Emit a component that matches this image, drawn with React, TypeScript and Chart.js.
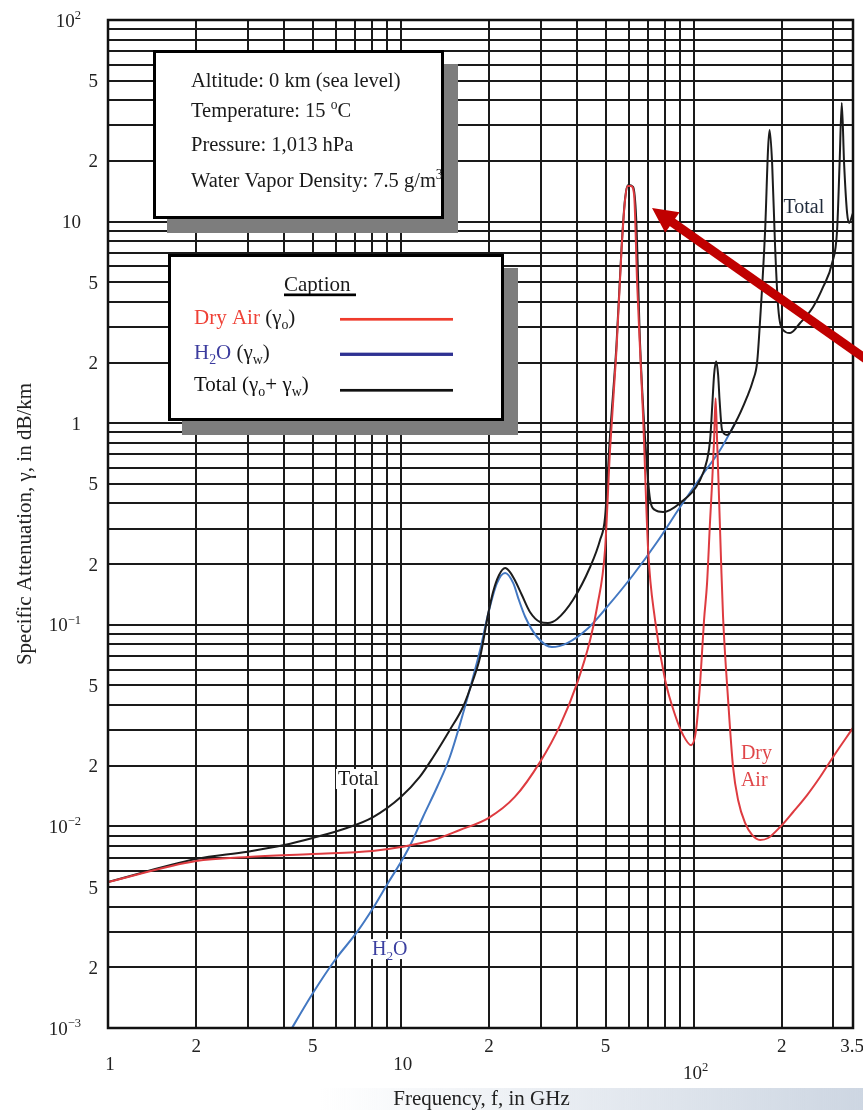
import React, { useEffect, useRef } from 'react';
import { Chart, registerables } from 'chart.js';

Chart.register(...registerables);

// ---------- data ----------
const DRY_FREQ = [1, 2, 3, 5, 8, 10, 12.9, 15.9, 19.9, 24.5, 29.9, 35, 40, 44.3, 46.8, 49.8, 51.8, 54.5, 56.7, 58.3, 59.5, 61.1, 62.6, 64.1, 65.6, 67.2, 69.9, 73.8, 79.9, 86.4, 92, 98, 101.9, 105.2, 108.5, 111.1, 113.8, 115.6, 117.4, 118.8, 120.2, 121.6, 124, 126, 131.1, 136.3, 141.8, 149.8, 158.3, 168.6, 179.6, 197.3, 218.6, 244, 270.2, 299.3, 350];
const DRY_ATT = [0.0053, 0.00674, 0.00705, 0.0073, 0.00755, 0.0079, 0.00856, 0.0096, 0.011, 0.014, 0.0209, 0.0318, 0.0514, 0.084, 0.1226, 0.235, 0.736, 2.31, 7.23, 12.8, 15.0, 15.0, 13.55, 4.96, 2.31, 1.07, 0.235, 0.1057, 0.0532, 0.0357, 0.0284, 0.0253, 0.0301, 0.0514, 0.1057, 0.161, 0.331, 0.505, 0.826, 1.33, 0.826, 0.505, 0.2097, 0.1093, 0.0424, 0.0197, 0.01352, 0.0104, 0.00907, 0.00856, 0.00876, 0.00993, 0.01179, 0.0143, 0.01758, 0.0221, 0.0308];

const H2O_FREQ = [4.02, 5.01, 5.96, 7.09, 8.04, 9.04, 10.1, 10.9, 11.9, 13.3, 14.7, 16.8, 18.65, 19.9, 21.3, 22.7, 24.2, 25.3, 26.6, 29.2, 32.8, 37, 43.3, 50.6, 62.1, 75, 89.9, 105.2, 123.1, 138.5];
const H2O_ATT = [0.000872, 0.001492, 0.002175, 0.002995, 0.003937, 0.005239, 0.00681, 0.00837, 0.01113, 0.01568, 0.0221, 0.0424, 0.075, 0.1145, 0.161, 0.1806, 0.161, 0.1327, 0.1093, 0.087, 0.0776, 0.0812, 0.0953, 0.1226, 0.1766, 0.2574, 0.384, 0.535, 0.736, 1.0];

const TOTAL_FREQ = [1, 2, 3, 4, 5, 6.54, 8.04, 10, 11.6, 12.9, 14.7, 16.3, 17.65, 18.65, 19.9, 20.65, 21.65, 22.7, 23.6, 24.5, 25.9, 27.6, 29.9, 31.8, 34.2, 38.7, 44.3, 47.9, 49.8, 51.8, 54.5, 56.7, 58.3, 59.7, 62.1, 63.6, 65.6, 68.2, 71, 73.8, 78.6, 89.9, 105.2, 111.1, 113.8, 116, 117.4, 119.3, 121.2, 122.6, 125, 130, 138.5, 152.2, 159.6, 164.7, 168.6, 175.4, 179.6, 181.7, 185.3, 189.7, 194.3, 202, 213.4, 230.9, 255.7, 276.7, 297, 308.9, 315, 320.4, 326.3, 334.1, 339.4, 350];
const TOTAL_ATT = [0.0053, 0.00689, 0.00749, 0.00808, 0.00876, 0.00982, 0.01113, 0.014, 0.0176, 0.0221, 0.0301, 0.0391, 0.0532, 0.0692, 0.1145, 0.1455, 0.1766, 0.1913, 0.1827, 0.1667, 0.1405, 0.1158, 0.1033, 0.1021, 0.1069, 0.1327, 0.1935, 0.2634, 0.34, 0.87, 2.45, 7.37, 12.95, 15.2, 14.85, 10.5, 2.48, 0.85, 0.416, 0.371, 0.3626, 0.402, 0.523, 0.657, 0.826, 1.3, 1.734, 2.03, 1.734, 1.3, 0.925, 0.874, 1.0, 1.35, 1.638, 2.01, 3.25, 9.09, 23.4, 28.5, 19.5, 7.48, 3.77, 2.9, 2.8, 3.14, 3.77, 4.74, 6.23, 9.09, 19.5, 38.8, 19.5, 11.03, 9.84, 11.03];

// grid / ticks
const X_GRID = [1, 2, 3, 4, 5, 6, 7, 8, 9, 10, 20, 30, 40, 50, 60, 70, 80, 90, 100, 200, 300, 350];
const Y_GRID = [0.001, 0.002, 0.003, 0.004, 0.005, 0.006, 0.007, 0.008, 0.009, 0.01, 0.02, 0.03, 0.04, 0.05, 0.06, 0.07, 0.08, 0.09, 0.1, 0.2, 0.3, 0.4, 0.5, 0.6, 0.7, 0.8, 0.9, 1, 2, 3, 4, 5, 6, 7, 8, 9, 10, 20, 30, 40, 50, 60, 70, 80, 90, 100];
const X_MINOR_VALUES = [2, 5, 20, 50, 200, 350];
const X_MINOR_TEXT = ['2', '5', '2', '5', '2', '3.5'];
const X_MAJOR_VALUES = [1, 10, 100];
const X_MAJOR_TEXT = ['1', '10', '10^{2}'];
const Y_MINOR_VALUES = [50, 20, 5, 2, 0.5, 0.2, 0.05, 0.02, 0.005, 0.002];
const Y_MINOR_TEXT = ['5', '2', '5', '2', '5', '2', '5', '2', '5', '2'];
const Y_MAJOR_VALUES = [100, 10, 1, 0.1, 0.01, 0.001];
const Y_MAJOR_TEXT = ['10^{2}', '10', '1', '10^{\u22121}', '10^{\u22122}', '10^{\u22123}'];

const INFO_LINES = ['Altitude: 0 km (sea level)', 'Temperature: 15 ^{o}C', 'Pressure: 1,013 hPa', 'Water Vapor Density: 7.5 g/m^{3}'];

// in-plot labels: [text, freq, attenuation(baseline), colour, white background]
const PLOT_LABELS: [string, number, number, string, boolean][] = [
  ['Total', 202.5, 11.0, '#1f2a3a', false],
  ['Total', 6.1, 0.01605, '#1a1a1a', true],
  ['H_{2}O', 7.97, 0.0023, '#3b3fa0', true],
  ['Dry', 145, 0.0216, '#e0474a', true],
  ['Air', 145, 0.01586, '#e0474a', true],
];

const FONT = "'Liberation Serif', 'Times New Roman', Times, serif";
const RED = '#de3b40';
const BLUE = '#4378c2';
const BLACK = '#1c1c1c';
const GRID = '#1a1a1a';

type Part = { t: string; s: number };
function parseRich(str: string): Part[] {
  const parts: Part[] = [];
  let buf = '';
  let i = 0;
  while (i < str.length) {
    const c = str[i];
    if ((c === '^' || c === '_') && str[i + 1] === '{') {
      if (buf) { parts.push({ t: buf, s: 0 }); buf = ''; }
      const end = str.indexOf('}', i);
      parts.push({ t: str.slice(i + 2, end), s: c === '^' ? 1 : -1 });
      i = end + 1;
    } else { buf += c; i++; }
  }
  if (buf) parts.push({ t: buf, s: 0 });
  return parts;
}

function measureRich(ctx: CanvasRenderingContext2D, str: string, size: number) {
  return parseRich(str).reduce((w, p) => {
    ctx.font = `${p.s ? size * 0.66 : size}px ${FONT}`;
    return w + ctx.measureText(p.t).width;
  }, 0);
}

function drawRich(ctx: CanvasRenderingContext2D, str: string, x: number, y: number, size: number, color: string, align: 'left' | 'center' | 'right' = 'left') {
  const parts = parseRich(str);
  const total = measureRich(ctx, str, size);
  let cx = align === 'left' ? x : align === 'center' ? x - total / 2 : x - total;
  ctx.save();
  ctx.textAlign = 'left';
  ctx.textBaseline = 'alphabetic';
  ctx.fillStyle = color;
  for (const p of parts) {
    ctx.font = `${p.s ? size * 0.66 : size}px ${FONT}`;
    const dy = p.s === 1 ? -size * 0.4 : p.s === -1 ? size * 0.24 : 0;
    ctx.fillText(p.t, cx, y + dy);
    cx += ctx.measureText(p.t).width;
  }
  ctx.restore();
  return total;
}

function boxWithShadow(ctx: CanvasRenderingContext2D, x: number, y: number, w: number, h: number, off: number) {
  ctx.save();
  ctx.fillStyle = '#7d7d7d';
  ctx.fillRect(x + off, y + off, w, h);
  ctx.fillStyle = '#ffffff';
  ctx.fillRect(x, y, w, h);
  ctx.strokeStyle = '#000';
  ctx.lineWidth = 3;
  ctx.strokeRect(x + 1.5, y + 1.5, w - 3, h - 3);
  ctx.restore();
}

const overlay = {
  id: 'overlay',
  afterDraw(chart: any) {
    const ctx: CanvasRenderingContext2D = chart.ctx;
    const xs = chart.scales.x;
    const ys = chart.scales.y;
    const a = chart.chartArea;

    // frame
    ctx.save();
    ctx.strokeStyle = '#111';
    ctx.lineWidth = 2.5;
    ctx.strokeRect(a.left, a.top, a.right - a.left, a.bottom - a.top);
    ctx.restore();

    // in-plot labels
    for (const [txt, f, g, col, bg] of PLOT_LABELS) {
      const px = xs.getPixelForValue(f);
      const py = ys.getPixelForValue(g);
      const w = measureRich(ctx, txt, 20);
      if (bg) {
        ctx.fillStyle = '#fff';
        ctx.fillRect(px - 2, py - 16, w + 4, 20);
      }
      drawRich(ctx, txt, px, py, 20, col, 'left');
    }

    // info box
    boxWithShadow(ctx, 153, 50, 291, 169, 14);
    const infoBase = [87, 117, 151, 187];
    INFO_LINES.forEach((t, i) => drawRich(ctx, t, 191, infoBase[i], 20.5, '#1a1a1a'));

    // caption box
    boxWithShadow(ctx, 168, 254, 336, 167, 14);
    drawRich(ctx, 'Caption', 284, 291, 21, '#1a1a1a');
    ctx.fillStyle = '#000';
    ctx.fillRect(284, 293.5, 72, 2.7);
    let w = drawRich(ctx, 'Dry Air', 194, 324, 21, '#ef4136');
    drawRich(ctx, ' (\u03b3_{o})', 194 + w, 324, 21, '#1a1a1a');
    w = drawRich(ctx, 'H_{2}O', 194, 359, 21, '#3c3c9e');
    drawRich(ctx, ' (\u03b3_{w})', 194 + w, 359, 21, '#1a1a1a');
    drawRich(ctx, 'Total (\u03b3_{o}+ \u03b3_{w})', 194, 391, 21, '#111');
    const leg: [string, number, number][] = [['#ef3b2c', 319.3, 2.7], ['#2e3192', 354.3, 3.3], ['#111', 390.3, 2.7]];
    for (const [c, y, lw] of leg) {
      ctx.fillStyle = c;
      ctx.fillRect(340, y - lw / 2, 113, lw);
    }

    // arrow
    ctx.save();
    const tipX = 652, tipY = 208;
    const dx = 0.817, dy = 0.577;
    ctx.strokeStyle = '#c00000';
    ctx.fillStyle = '#c00000';
    ctx.lineWidth = 9;
    ctx.beginPath();
    ctx.moveTo(tipX + 20 * dx, tipY + 20 * dy);
    ctx.lineTo(tipX + 400 * dx, tipY + 400 * dy);
    ctx.stroke();
    const bx = tipX + 25 * dx, by = tipY + 25 * dy;
    ctx.beginPath();
    ctx.moveTo(tipX, tipY);
    ctx.lineTo(bx - 12.5 * dy, by + 12.5 * dx);
    ctx.lineTo(bx + 12.5 * dy, by - 12.5 * dx);
    ctx.closePath();
    ctx.fill();
    ctx.restore();

    // tick labels
    Y_MINOR_VALUES.forEach((v, i) => drawRich(ctx, Y_MINOR_TEXT[i], 98, ys.getPixelForValue(v) + 6.5, 19, '#222', 'right'));
    Y_MAJOR_VALUES.forEach((v, i) => drawRich(ctx, Y_MAJOR_TEXT[i], 81, ys.getPixelForValue(v) + 6.5, 19, '#222', 'right'));
    X_MINOR_VALUES.forEach((v, i) => drawRich(ctx, X_MINOR_TEXT[i], xs.getPixelForValue(v) + (i === X_MINOR_VALUES.length - 1 ? -1 : 0), 1052, 19, '#222', 'center'));
    X_MAJOR_VALUES.forEach((v, i) => drawRich(ctx, X_MAJOR_TEXT[i], xs.getPixelForValue(v) + 2, i === 2 ? 1079 : 1070, 19, '#222', 'center'));

    // bottom gradient strip
    const grad = ctx.createLinearGradient(320, 0, 863, 0);
    grad.addColorStop(0, 'rgba(205,214,226,0)');
    grad.addColorStop(1, 'rgba(205,214,226,1)');
    ctx.fillStyle = grad;
    ctx.fillRect(320, 1088, 543, 22);

    // axis titles
    drawRich(ctx, 'Frequency, f, in GHz', (a.left + a.right) / 2 + 1, 1105, 21, '#222', 'center');
    ctx.save();
    ctx.translate(31, (a.top + a.bottom) / 2);
    ctx.rotate(-Math.PI / 2);
    drawRich(ctx, 'Specific Attenuation, \u03b3, in dB/km', 0, 0, 21, '#222', 'center');
    ctx.restore();
  },
};

function pts(fx: number[], gy: number[]) {
  return fx.map((f, i) => ({ x: f, y: gy[i] }));
}

export default function App() {
  const ref = useRef<HTMLCanvasElement | null>(null);
  useEffect(() => {
    if (!ref.current) return;
    const gridOpts = { color: GRID, lineWidth: 2, drawTicks: false };
    const chart = new Chart(ref.current, {
      type: 'line',
      data: {
        datasets: [
          { label: 'Dry Air', data: pts(DRY_FREQ, DRY_ATT), borderColor: RED, borderWidth: 2, pointRadius: 0, cubicInterpolationMode: 'monotone', order: 0 },
          { label: 'Total', data: pts(TOTAL_FREQ, TOTAL_ATT), borderColor: BLACK, borderWidth: 2, pointRadius: 0, cubicInterpolationMode: 'monotone', order: 1 },
          { label: 'H2O', data: pts(H2O_FREQ, H2O_ATT), borderColor: BLUE, borderWidth: 2, pointRadius: 0, cubicInterpolationMode: 'monotone', order: 2 },
        ],
      } as any,
      options: {
        animation: false,
        responsive: false,
        devicePixelRatio: 1,
        layout: { padding: { left: 108, top: 20, right: 10, bottom: 82 } },
        plugins: { legend: { display: false }, tooltip: { enabled: false } },
        scales: {
          x: {
            type: 'logarithmic', min: 1, max: 350,
            ticks: { display: false },
            grid: gridOpts,
            border: { display: true, color: '#111', width: 2 },
            afterBuildTicks: (s: any) => { s.ticks = X_GRID.map((v) => ({ value: v })); },
          },
          y: {
            type: 'logarithmic', min: 0.001, max: 100,
            ticks: { display: false },
            grid: gridOpts,
            border: { display: true, color: '#111', width: 2 },
            afterBuildTicks: (s: any) => { s.ticks = Y_GRID.map((v) => ({ value: v })); },
          },
        },
      } as any,
      plugins: [overlay],
    });
    return () => chart.destroy();
  }, []);
  return (
    <div style={{ position: 'absolute', left: 0, top: 0, width: 863, height: 1110, background: '#fff' }}>
      <canvas ref={ref} width={863} height={1110} style={{ display: 'block', width: 863, height: 1110 }} />
    </div>
  );
}
